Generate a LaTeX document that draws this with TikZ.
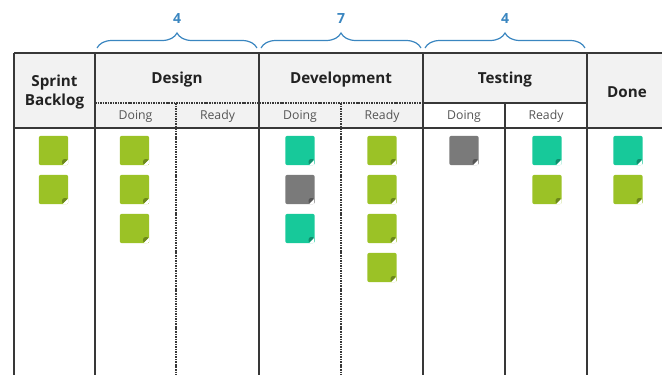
\documentclass[tikz,border=0pt]{standalone}
\usepackage{fontspec}
\setmainfont{Open Sans}
\usetikzlibrary{decorations.pathreplacing}
\definecolor{hdrgray}{HTML}{F2F2F2}
\definecolor{linec}{HTML}{383838}
\definecolor{bracec}{HTML}{3A86C0}
\definecolor{notegreen}{HTML}{9BC226}
\definecolor{noteteal}{HTML}{17C99A}
\definecolor{notegray}{HTML}{7A7A7A}
\definecolor{hdrtext}{HTML}{222222}
\definecolor{subtext}{HTML}{555555}
\tikzset{
  frame/.style={line width=1.5pt, draw=linec},
  dotline/.style={line width=1.6pt, draw=linec, dash pattern=on 1.2pt off 0.7pt},
  hdr/.style={font=\bfseries\fontsize{11.4}{14}\selectfont, text=hdrtext, align=center, inner sep=0pt},
  sub/.style={font=\fontsize{9.2}{11}\selectfont, text=subtext, inner sep=0pt},
  wip/.style={decorate, decoration={brace, amplitude=11.25pt, aspect=0.5}, draw=bracec, line width=0.9pt},
  wiplabel/.style={font=\bfseries\fontsize{10.5}{12}\selectfont, text=bracec, inner sep=0pt},
  note/.style={minimum width=22pt, minimum height=22pt, inner sep=0pt, rounded corners=1.5pt, fill=#1,
    path picture={
      \fill[white] ([xshift=-4.5pt]path picture bounding box.south east) -- (path picture bounding box.south east) -- ([yshift=4.5pt]path picture bounding box.south east) -- cycle;
      \fill[#1!70!black] ([xshift=-4.5pt]path picture bounding box.south east) -- ([yshift=4.5pt]path picture bounding box.south east) -- ([xshift=-4.5pt,yshift=4.5pt]path picture bounding box.south east) -- cycle;
    }}
}
\begin{document}
\begin{tikzpicture}[x=0.75pt,y=-0.75pt]
\useasboundingbox (0,0) rectangle (662,375);
% header background
\fill[hdrgray] (14,53) rectangle (662,128);
\fill[white] (423,103) rectangle (587,128);
% grid lines
\draw[frame] (14,53) -- (662,53);
\draw[frame] (14,128) -- (662,128);
\draw[frame] (423,103) -- (587,103);
\draw[dotline] (95,103) -- (423,103);
\foreach \x in {14,95,259,423,587} \draw[frame] (\x,53) -- (\x,376);
\draw[frame] (505,103) -- (505,376);
\draw[dotline] (176,103) -- (176,376);
\draw[dotline] (341,103) -- (341,376);
% headers
\node[hdr] (hsb) at (54.5,92) {Sprint\\Backlog};
\node[hdr] (hdes) at (177,79.5) {Design};
\node[hdr] (hdev) at (341,79.5) {Development};
\node[hdr] (htest) at (505,79.5) {Testing};
\node[hdr] (hdone) at (627,92) {Done};
% sub headers
\node[sub] (s1) at (135.5,116.5) {Doing};
\node[sub] (s2) at (217.5,116.5) {Ready};
\node[sub] (s3) at (300,116.5) {Doing};
\node[sub] (s4) at (382,116.5) {Ready};
\node[sub] (s5) at (464,116.5) {Doing};
\node[sub] (s6) at (546,116.5) {Ready};
% WIP braces
\coordinate (b1a) at (97,48); \coordinate (b1b) at (257,48);
\coordinate (b2a) at (261,48); \coordinate (b2b) at (421,48);
\coordinate (b3a) at (425,48); \coordinate (b3b) at (585,48);
\draw[wip] (b1a) -- (b1b);
\draw[wip] (b2a) -- (b2b);
\draw[wip] (b3a) -- (b3b);
\node[wiplabel] (w1) at (177,19) {4};
\node[wiplabel] (w2) at (341,19) {7};
\node[wiplabel] (w3) at (505,19) {4};
% sticky notes
\node[note=notegreen] (sb1) at (53.5,150.5) {};
\node[note=notegreen] (sb2) at (53.5,189.5) {};
\node[note=notegreen] (dd1) at (134.5,150.5) {};
\node[note=notegreen] (dd2) at (134.5,189.5) {};
\node[note=notegreen] (dd3) at (134.5,228.5) {};
\node[note=noteteal] (vd1) at (300,150.5) {};
\node[note=notegray] (vd2) at (300,189.5) {};
\node[note=noteteal] (vd3) at (300,228.5) {};
\node[note=notegreen] (vr1) at (382,150.5) {};
\node[note=notegreen] (vr2) at (382,189.5) {};
\node[note=notegreen] (vr3) at (382,228.5) {};
\node[note=notegreen] (vr4) at (382,267.5) {};
\node[note=notegray] (td1) at (464,150.5) {};
\node[note=noteteal] (tr1) at (547,150.5) {};
\node[note=notegreen] (tr2) at (547,189.5) {};
\node[note=noteteal] (dn1) at (628,150.5) {};
\node[note=notegreen] (dn2) at (628,189.5) {};
\end{tikzpicture}
\end{document}
